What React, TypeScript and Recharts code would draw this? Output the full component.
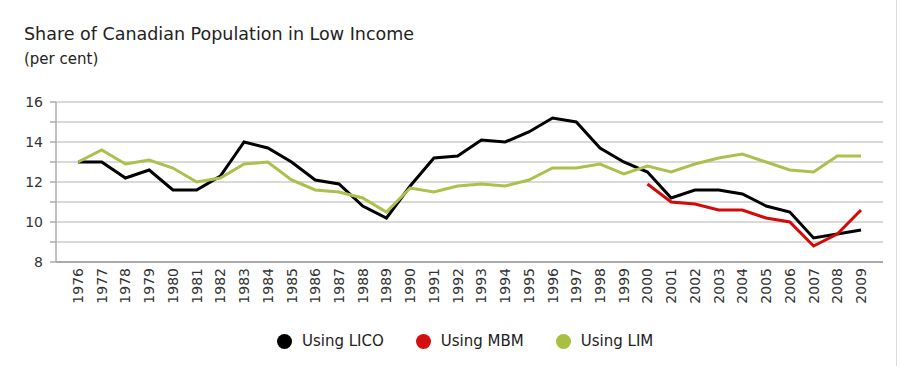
import { CartesianGrid, Line, LineChart, XAxis, YAxis } from 'recharts';

const FONT = '"DejaVu Sans", Verdana, sans-serif';

const years = [
  1976, 1977, 1978, 1979, 1980, 1981, 1982, 1983, 1984, 1985, 1986, 1987, 1988, 1989, 1990, 1991, 1992,
  1993, 1994, 1995, 1996, 1997, 1998, 1999, 2000, 2001, 2002, 2003, 2004, 2005, 2006, 2007, 2008, 2009,
];

const lico = [
  13.0, 13.0, 12.2, 12.6, 11.6, 11.6, 12.3, 14.0, 13.7, 13.0, 12.1, 11.9, 10.8, 10.2, 11.8, 13.2, 13.3,
  14.1, 14.0, 14.5, 15.2, 15.0, 13.7, 13.0, 12.5, 11.2, 11.6, 11.6, 11.4, 10.8, 10.5, 9.2, 9.4, 9.6,
];

// MBM only starts in 2000
const mbm: (number | null)[] = [
  null, null, null, null, null, null, null, null, null, null, null, null, null, null, null, null, null,
  null, null, null, null, null, null, null, 11.9, 11.0, 10.9, 10.6, 10.6, 10.2, 10.0, 8.8, 9.4, 10.6,
];

const lim = [
  13.0, 13.6, 12.9, 13.1, 12.7, 12.0, 12.2, 12.9, 13.0, 12.1, 11.6, 11.5, 11.2, 10.5, 11.7, 11.5, 11.8,
  11.9, 11.8, 12.1, 12.7, 12.7, 12.9, 12.4, 12.8, 12.5, 12.9, 13.2, 13.4, 13.0, 12.6, 12.5, 13.3, 13.3,
];

const yTicks = [8, 9, 10, 11, 12, 13, 14, 15, 16];

const series = [
  { key: 'lico', name: 'Using LICO', color: '#000000', dot: '#000000' },
  { key: 'mbm', name: 'Using MBM', color: '#d10a0a', dot: '#d40f0f' },
  { key: 'lim', name: 'Using LIM', color: '#aac14b', dot: '#a9bf3f' },
];

const data = years.map((year, i) => ({ year, lico: lico[i], mbm: mbm[i], lim: lim[i] }));

function YearTick({ x, y, payload }: any) {
  return (
    <text
      x={x}
      y={y}
      transform={`rotate(-90 ${x} ${y})`}
      textAnchor="end"
      dominantBaseline="central"
      fontSize={14}
      fontFamily={FONT}
      fill="#333"
    >
      {payload.value}
    </text>
  );
}

export default function App() {
  return (
    <div style={{ position: 'absolute', left: 0, top: 0, width: 901, height: 366, background: '#fff', fontFamily: FONT }}>
      <div style={{ position: 'absolute', left: 24, top: 26, fontSize: 17.5, lineHeight: 1, color: '#222', whiteSpace: 'nowrap' }}>
        Share of Canadian Population in Low Income
      </div>
      <div style={{ position: 'absolute', left: 24, top: 52, fontSize: 15, lineHeight: 1, color: '#222' }}>
        (per cent)
      </div>
      <div style={{ position: 'absolute', left: 896, top: 0, width: 1, height: 366, background: '#dcdcdc' }} />

      <LineChart width={901} height={366} data={data} margin={{ top: 102, right: 18, left: 0, bottom: 54 }}>
        <CartesianGrid horizontal vertical={false} stroke="#d9d9d9" strokeWidth={2} />
        <XAxis
          dataKey="year"
          interval={0}
          height={50}
          padding={{ left: 22, right: 22 }}
          tickLine={false}
          tickSize={6}
          tickMargin={0}
          axisLine={{ stroke: '#ababab', strokeWidth: 2 }}
          tick={<YearTick />}
        />
        <YAxis
          width={56}
          domain={[8, 16]}
          ticks={yTicks}
          interval={0}
          tickSize={6}
          tickMargin={7}
          tickLine={{ stroke: '#ababab', strokeWidth: 1.5 }}
          axisLine={{ stroke: '#ababab', strokeWidth: 1.5 }}
          tickFormatter={(v: number) => (v % 2 === 0 ? String(v) : '')}
          tick={{ fontSize: 14, fontFamily: FONT, fill: '#333' }}
        />
        {series.map((s) => (
          <Line
            key={s.key}
            type="linear"
            dataKey={s.key}
            name={s.name}
            stroke={s.color}
            strokeWidth={3}
            dot={false}
            activeDot={false}
            connectNulls={false}
            isAnimationActive={false}
          />
        ))}
      </LineChart>

      <div style={{ position: 'absolute', left: 277, top: 333, display: 'flex', alignItems: 'center', gap: 32 }}>
        {series.map((s) => (
          <div key={s.key} style={{ display: 'flex', alignItems: 'center', gap: 10 }}>
            <span style={{ width: 15, height: 15, borderRadius: '50%', background: s.dot, display: 'inline-block' }} />
            <span style={{ fontSize: 15, color: '#222', lineHeight: '16px' }}>{s.name}</span>
          </div>
        ))}
      </div>
    </div>
  );
}
